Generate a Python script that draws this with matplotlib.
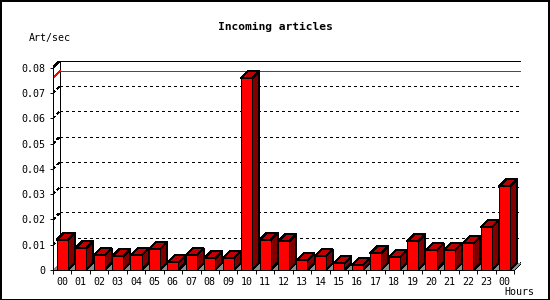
import matplotlib
matplotlib.use("Agg")
import matplotlib.pyplot as plt
from matplotlib.patches import Rectangle
from matplotlib.ticker import FixedLocator, FixedFormatter, NullFormatter

plt.rcParams['font.family'] = ['DejaVu Sans Mono']

# ---- data ----
hours = ["00", "01", "02", "03", "04", "05", "06", "07", "08", "09", "10", "11",
         "12", "13", "14", "15", "16", "17", "18", "19", "20", "21", "22", "23", "00"]
values = [0.0119, 0.0086, 0.0058, 0.0054, 0.0058, 0.0082, 0.0030, 0.0058, 0.0046,
          0.0046, 0.0758, 0.0119, 0.0113, 0.0038, 0.0054, 0.0026, 0.0018, 0.0066,
          0.0050, 0.0113, 0.0078, 0.0078, 0.0105, 0.0169, 0.0331]
yticks = [0, 0.01, 0.02, 0.03, 0.04, 0.05, 0.06, 0.07, 0.08]
ytick_labels = ["0", "0.01", "0.02", "0.03", "0.04", "0.05", "0.06", "0.07", "0.08"]
title = "Incoming articles"
ylabel = "Art/sec"
xlabel = "Hours"

# ---- layout ----
W, H, DPI = 550, 300, 100
n = len(values)
x0_px, x1_px = 53, 514          # front plane left/right
y0_px, ytop_px = 270, 67.6      # value 0 / value ymax
depth = 7                        # 3D depth in px
ymax = yticks[-1]
slot_px = (x1_px - x0_px) / n
vpx = (y0_px - ytop_px) / ymax
dx = depth / slot_px
dy = depth / vpx

FRONT = "#ff0000"
TOP = "#c00000"
SIDE = "#800000"
FLOOR = "#8c8c8c"
LW = 0.68

fig = plt.figure(figsize=(W / DPI, H / DPI), dpi=DPI)
fig.patch.set_facecolor("white")
ax_w = (x1_px - x0_px + depth) / W
ax_h = (y0_px - ytop_px + depth) / H
ax = fig.add_axes([x0_px / W, (H - y0_px) / H, ax_w, ax_h])
ax.set_xlim(0, n + dx)
ax.set_ylim(0, ymax + dy)
ax.set_facecolor("none")
for s in ["top", "right"]:
    ax.spines[s].set_visible(False)
ax.spines["left"].set_bounds(0, ymax)
ax.spines["bottom"].set_bounds(0, n)
for s in ["left", "bottom"]:
    ax.spines[s].set_linewidth(LW)
    ax.spines[s].set_antialiased(False)

# back wall frame & grid
k = dict(color="black", lw=LW, antialiased=False, zorder=1)
ax.plot([dx, n + dx], [ymax + dy, ymax + dy], **k)
ax.plot([0, dx], [ymax, ymax + dy], **k)
ax.plot([dx, dx], [dy, ymax + dy], **k)
ax.plot([n + dx, n + dx], [dy, ymax + dy], **k)
ax.plot([n, n + dx], [0, dy], **k)
for v in yticks[1:-1]:
    ax.plot([dx, n + dx], [v + dy, v + dy], color="black", lw=LW,
            linestyle=(0, (2.2, 3.2)), antialiased=False, zorder=1)
    ax.plot([0, dx], [v, v + dy], color="black", lw=LW,
            linestyle=(0, (2.2, 3.2)), antialiased=False, zorder=1)

# max line (red) on back wall
vmax = max(values)
ax.plot([dx, n + dx], [vmax + dy, vmax + dy], color="#ff0000", lw=LW, antialiased=False, zorder=1.2)
ax.plot([0, dx], [vmax, vmax + dy], color="#ff0000", lw=LW, antialiased=False, zorder=1.2)

# floor
ax.fill([0, n, n + dx, dx], [0, 0, dy, dy], color=FLOOR, lw=0, antialiased=False, zorder=1.5)

# bars
xs = [i + 0.5 for i in range(n)]
bw = 0.6
ax.bar(xs, values, width=bw, color=FRONT, edgecolor="black", linewidth=LW,
       antialiased=False, zorder=3)
for x, v in zip(xs, values):
    l, r = x - bw / 2, x + bw / 2
    ax.fill([l, r, r + dx, l + dx], [v, v, v + dy, v + dy], facecolor=TOP,
            edgecolor="black", lw=LW, antialiased=False, zorder=2)
    ax.fill([r, r + dx, r + dx, r], [0, dy, v + dy, v], facecolor=SIDE,
            edgecolor="black", lw=LW, antialiased=False, zorder=2)

# ticks
ax.yaxis.set_major_locator(FixedLocator(yticks))
ax.yaxis.set_major_formatter(FixedFormatter(ytick_labels))
ax.tick_params(axis="y", direction="out", length=2.2, width=LW, pad=3.6, labelsize=7.2)
ax.xaxis.set_major_locator(FixedLocator(xs))
ax.xaxis.set_major_formatter(FixedFormatter(hours))
ax.xaxis.set_minor_locator(FixedLocator(list(range(n + 1))))
ax.xaxis.set_minor_formatter(NullFormatter())
ax.tick_params(axis="x", which="major", length=0, pad=5, labelsize=7.2)
ax.tick_params(axis="x", which="minor", direction="out", length=2.8, width=LW)

fig.text(275 / W, 1 - 27 / H, title, ha="center", va="center",
         fontsize=8.1, fontweight="bold")
fig.text(29 / W, 1 - 37.5 / H, ylabel, ha="left", va="center", fontsize=7.2)
fig.text(504 / W, 1 - 292 / H, xlabel, ha="left", va="center", fontsize=7.2)

fig.add_artist(Rectangle((0.5 / W, 0.5 / H), (W - 1.5) / W, (H - 1.5) / H,
                         transform=fig.transFigure, fill=False,
                         edgecolor="black", lw=1.2, antialiased=False))

fig.savefig("out.png", dpi=DPI)
